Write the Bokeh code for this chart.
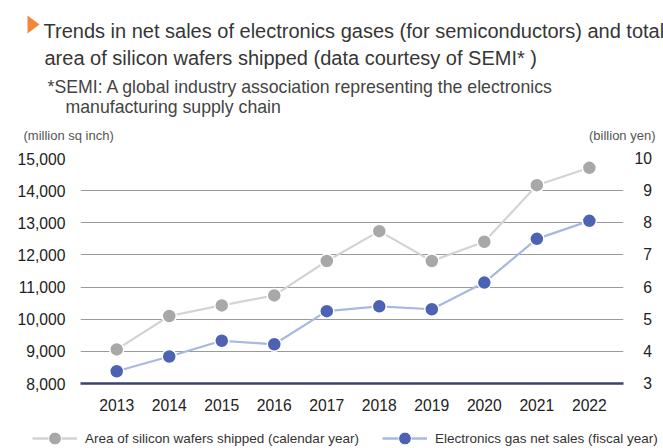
from bokeh.plotting import figure
from bokeh.layouts import column, row
from bokeh.models import (Range1d, LinearAxis, Label, Legend, LegendItem,
                          FixedTicker, NumeralTickFormatter)
from bokeh.embed import file_html
from bokeh.resources import INLINE

years = [2013, 2014, 2015, 2016, 2017, 2018, 2019, 2020, 2021, 2022]
wafer_area = [9060, 10100, 10430, 10740, 11810, 12740, 11810, 12410, 14170, 14710]
gas_sales = [3.38, 3.84, 4.33, 4.22, 5.25, 5.40, 5.31, 6.14, 7.50, 8.06]
left_ticks = [8000, 9000, 10000, 11000, 12000, 13000, 14000, 15000]
right_ticks = [3, 4, 5, 6, 7, 8, 9, 10]

title_lines = ["Trends in net sales of electronics gases (for semiconductors) and total",
               "area of silicon wafers shipped (data courtesy of SEMI* )"]
note_lines = ["*SEMI: A global industry association representing the electronics",
              "manufacturing supply chain"]
left_unit = "(million sq inch)"
right_unit = "(billion yen)"
series_names = ["Area of silicon wafers shipped (calendar year)",
                "Electronics gas net sales (fiscal year)"]

FONT = "Liberation Sans"
W = 663
H1, H2, H3 = 145, 270, 33
FL, FR = 80, 623
FT, FB = 158 - H1, 383 - H1  # frame top / bottom inside main figure

GRAY_LINE, GRAY_DOT = "#d3d3d3", "#a8a8aa"
BLUE_LINE, BLUE_DOT = "#a9b8e2", "#4d62b3"
TICK_SIZE = "15.7px"

# ---------------- header figure ----------------
ph = figure(width=W, height=H1, output_backend="svg", toolbar_location=None,
            x_range=Range1d(0, W), y_range=Range1d(H1, 0), min_border=0,
            outline_line_color=None)
ph.axis.visible = False
ph.grid.visible = False
ph.patch([27, 39, 27], [15, 24, 33], fill_color="#f4873a", line_color=None)

def hlab(text, x, y, size, color, align="left"):
    ph.add_layout(Label(x=x, y=y, text=text, text_font=FONT, text_font_size=size,
                        text_color=color, text_align=align, text_baseline="alphabetic"))

hlab(title_lines[0], 43, 30, "20px", "#363636")
hlab(title_lines[1], 44, 57, "20px", "#363636")
hlab(note_lines[0], 47, 86, "17.7px", "#444444")
hlab(note_lines[1], 65, 106, "17.7px", "#444444")
hlab(left_unit, 23, 135, "13px", "#555555")
hlab(right_unit, 655, 135, "13px", "#555555", align="right")

# ---------------- main chart ----------------
p = figure(width=W, height=H2, output_backend="svg", toolbar_location=None,
           x_range=Range1d(2012.31, 2022.65), y_range=Range1d(8000, 15000),
           min_border_left=FL, min_border_right=W - FR, min_border_top=FT,
           min_border_bottom=H2 - FB, outline_line_color=None)
p.extra_y_ranges = {"yen": Range1d(3, 10)}

p.yaxis.ticker = FixedTicker(ticks=left_ticks)
p.yaxis.formatter = NumeralTickFormatter(format="0,0")
p.yaxis.axis_line_color = None
p.yaxis.major_tick_line_color = None
p.yaxis.minor_tick_line_color = None
p.yaxis.major_label_standoff = 9
p.yaxis.major_label_text_font = FONT
p.yaxis.major_label_text_font_size = TICK_SIZE
p.yaxis.major_label_text_color = "#222222"

ry = LinearAxis(y_range_name="yen", ticker=FixedTicker(ticks=right_ticks))
ry.axis_line_color = None
ry.major_tick_line_color = None
ry.minor_tick_line_color = None
ry.major_label_standoff = 5
# right-align the single digits under "10" with a figure space
ry.major_label_overrides = {v: ("\u2007" + str(v) if v < 10 else str(v)) for v in right_ticks}
ry.major_label_text_font = FONT
ry.major_label_text_font_size = TICK_SIZE
ry.major_label_text_color = "#222222"
p.add_layout(ry, "right")

p.xaxis.ticker = FixedTicker(ticks=years)
p.xaxis.axis_line_color = "#3b4170"
p.xaxis.axis_line_width = 2.5
p.xaxis.major_tick_line_color = None
p.xaxis.minor_tick_line_color = None
p.xaxis.major_label_standoff = 9
p.xaxis.major_label_text_font = FONT
p.xaxis.major_label_text_font_size = TICK_SIZE
p.xaxis.major_label_text_color = "#222222"

p.xgrid.grid_line_color = None
p.ygrid.ticker = FixedTicker(ticks=left_ticks[1:])
p.ygrid.grid_line_color = "#9a9a9a"
p.ygrid.grid_line_width = 1

p.line(years, wafer_area, line_color=GRAY_LINE, line_width=2.2)
p.scatter(years, wafer_area, size=14, fill_color=GRAY_DOT, line_color="white", line_width=1.5)
p.line(years, gas_sales, line_color=BLUE_LINE, line_width=2.2, y_range_name="yen")
p.scatter(years, gas_sales, size=14, fill_color=BLUE_DOT, line_color="white", line_width=1.5,
          y_range_name="yen")

# ---------------- legend strip ----------------
pl = figure(width=W, height=H3, output_backend="svg", toolbar_location=None,
            x_range=Range1d(0, 1), y_range=Range1d(0, 1), min_border=0,
            outline_line_color=None)
pl.axis.visible = False
pl.grid.visible = False
# legend-only renderers: their single point lies outside the strip's visible range
off = [5]
gl = pl.line(off, off, line_color=GRAY_LINE, line_width=2.5)
gs = pl.scatter(off, off, size=13, fill_color=GRAY_DOT, line_color="white", line_width=1)
bl = pl.line(off, off, line_color=BLUE_LINE, line_width=2.5)
bs = pl.scatter(off, off, size=13, fill_color=BLUE_DOT, line_color="white", line_width=1)
legend = Legend(items=[LegendItem(label=series_names[0], renderers=[gl, gs]),
                       LegendItem(label=series_names[1], renderers=[bl, bs])],
                orientation="horizontal", location=(32, -6), glyph_width=45, glyph_height=32,
                label_standoff=8, spacing=23, padding=0, margin=0, border_line_color=None,
                background_fill_alpha=0, label_text_font=FONT, label_text_font_size="13.5px",
                label_text_color="#333333", label_height=32, label_text_baseline="middle")
pl.add_layout(legend, "center")

layout = column(row(ph, spacing=0), p, row(pl, spacing=0), spacing=0)
open("out.html", "w").write(file_html(layout, INLINE))
